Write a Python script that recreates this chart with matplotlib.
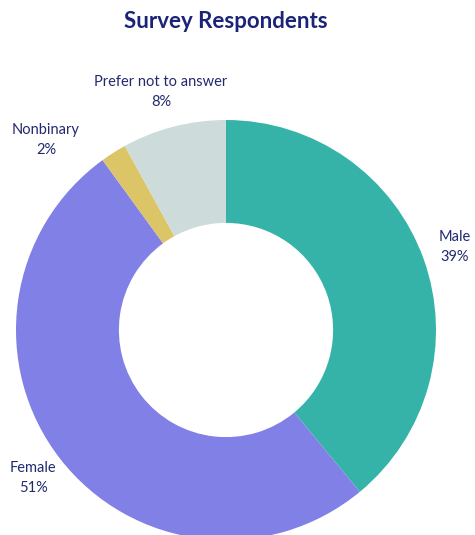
import matplotlib
matplotlib.use("Agg")
import matplotlib.pyplot as plt

categories = ["Male", "Female", "Nonbinary", "Prefer not to answer"]
values = [39, 51, 2, 8]
colors = ["#36b3a8", "#8080e6", "#dcc566", "#cddbdb"]
label_text = ["Male\n39%", "Female\n51%", "Nonbinary\n2%", "Prefer not to answer\n8%"]
# label centres in pixels (x from left, y from top)
label_pos = [(455, 247), (33, 478), (46, 140), (161, 92)]

W, H = 475, 535
fig = plt.figure(figsize=(W / 100, H / 100), dpi=100)
fig.patch.set_facecolor("white")

cx, cy, r = 226, 330, 210
ax = fig.add_axes([(cx - r) / W, (H - (cy + r)) / H, 2 * r / W, 2 * r / H])
wedges, _ = ax.pie(values, colors=colors, startangle=90, counterclock=False,
                   radius=1.0, wedgeprops=dict(width=0.49, linewidth=0),
                   center=(0, 0))
ax.set_xlim(-1, 1)
ax.set_ylim(-1, 1)
ax.set_aspect("equal")
ax.axis("off")
for w in wedges:
    w.set_clip_on(False)

text_color = "#222a6e"
fig.text(226 / W, 1 - 22 / H, "Survey Respondents", ha="center", va="center",
         fontsize=16, fontweight="bold", color="#1b2378", family="Lato")
for txt, (px, py) in zip(label_text, label_pos):
    fig.text(px / W, 1 - py / H, txt, ha="center", va="center", fontsize=10.5,
             color=text_color, family="Lato", linespacing=1.6)

fig.savefig("out.png", dpi=100, facecolor="white")
